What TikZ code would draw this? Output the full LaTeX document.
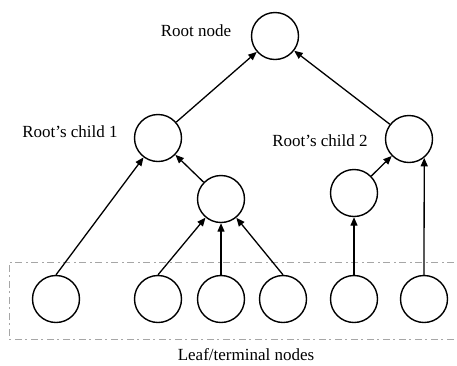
\documentclass[tikz,border=0pt]{standalone}
\usepackage{fontspec}
\setmainfont{Liberation Serif}
\usetikzlibrary{arrows.meta}
\begin{document}
\begin{tikzpicture}[x=1pt,y=-1pt,
  treenode/.style={circle,draw,line width=1.4pt,minimum size=47pt,inner sep=0pt},
  link/.style={line width=1.3pt,-{Triangle[length=8.5pt,width=7pt]}},
  lbl/.style={font=\fontsize{17}{20}\selectfont,inner sep=0pt},
  leafbox/.style={gray!70,line width=0.6pt,dash pattern=on 7pt off 4pt on 2pt off 3pt}]
\useasboundingbox (0,0) rectangle (457,365);

% tree nodes
\node[treenode] (root) at (275,36) {};
\node[treenode] (c1) at (158,138) {};
\node[treenode] (c2) at (409,139) {};
\node[treenode] (m1) at (221,199) {};
\node[treenode] (m2) at (354,193) {};
\node[treenode] (l1) at (56,299) {};
\node[treenode] (l2) at (158,299) {};
\node[treenode] (l3) at (221,299) {};
\node[treenode] (l4) at (283,299) {};
\node[treenode] (l5) at (354,299) {};
\node[treenode] (l6) at (424,299) {};

% labels
\node[lbl] (troot) at (196,31) {Root node};
\node[lbl] (tc1) at (70,132) {Root’s child 1};
\node[lbl] (tc2) at (320,141) {Root’s child 2};
\node[lbl] (tleaf) at (246,355) {Leaf/terminal nodes};

% leaf region outline (open on the right)
\coordinate (bl) at (9,339);
\coordinate (tl) at (9,262);
\coordinate (tr) at (470,262);
\coordinate (br) at (470,339);
\draw[leafbox] (br) -- (bl) -- (tl) -- (tr);

% connectors
\draw[link] (c1) -- (root);
\draw[link] (c2) -- (root);
\draw[link] (m1) -- (c1);
\draw[link] (l1.north) -- (c1);
\draw[link] (m2) -- (c2);
\draw[link] (l6.north) -- (c2.-51);
\draw[link] (l2.north) -- (m1);
\draw[link] (l3.north) -- (m1);
\draw[link] (l4.north) -- (m1);
\draw[link] (l5.north) -- (m2);
\end{tikzpicture}
\end{document}
